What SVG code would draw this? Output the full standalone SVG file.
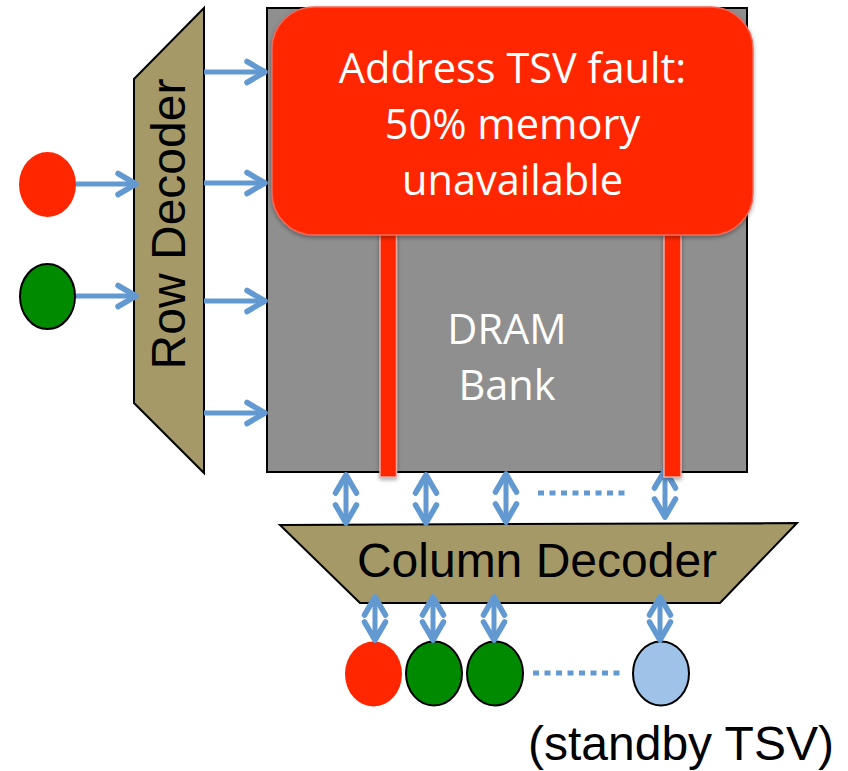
<svg xmlns="http://www.w3.org/2000/svg" width="848" height="771" viewBox="0 0 848 771">
<style>
.arr{stroke:#6399d1;stroke-width:5;fill:none;stroke-linecap:butt}
.dot{stroke:#6399d1;stroke-width:5;fill:none;stroke-dasharray:6 5.5}
.dec{fill:#a59a67;stroke:#000;stroke-width:2;stroke-linejoin:miter}
.lbl{font-family:"Liberation Sans",Arial,sans-serif;font-size:48px;fill:#000}
.wt{font-family:"Open Sans","Noto Sans",sans-serif;font-size:41.5px;fill:#fff;text-anchor:middle}
.bar{fill:#ff2600;stroke:#f2aaa0;stroke-width:1.5}
</style>
<defs>
<marker id="chev" markerUnits="userSpaceOnUse" viewBox="0 0 24 24" markerWidth="24" markerHeight="24" refX="20" refY="12" orient="auto-start-reverse" overflow="visible">
<path d="M2,1.5 L20,12 L2,22.5" fill="none" stroke="#6399d1" stroke-width="5.5" stroke-linecap="round" stroke-linejoin="round"/>
</marker>
<filter id="sh" x="-10%" y="-10%" width="120%" height="125%">
<feDropShadow dx="0" dy="2" stdDeviation="2" flood-color="#000" flood-opacity="0.35"/>
</filter>
</defs>

<g id="bank">
<rect x="267" y="8" width="480" height="464" fill="#8f8f8f" stroke="#000" stroke-width="2"/>
<text class="wt" x="507" y="344">DRAM</text>
<text class="wt" x="507" y="400">Bank</text>
</g>

<g id="row-decoder">
<polygon class="dec" points="134,79 204,8 204,473 134,403"/>
<text class="lbl" text-anchor="middle" transform="translate(185,224) rotate(-90)">Row Decoder</text>
</g>

<g id="column-decoder">
<polygon class="dec" points="280,525 797,523 720,603 360,603"/>
<text class="lbl" x="537" y="577" text-anchor="middle">Column Decoder</text>
</g>

<g id="row-tsv-red"><ellipse cx="47.5" cy="184.5" rx="28.5" ry="32.5" fill="#ff2600"/></g>
<g id="row-tsv-green"><ellipse cx="47.5" cy="296.5" rx="27.5" ry="32.5" fill="#008a00" stroke="#000" stroke-width="2"/></g>

<g id="col-tsv-red"><ellipse cx="373.5" cy="674" rx="28.5" ry="32.5" fill="#ff2600"/></g>
<g id="col-tsv-green1"><ellipse cx="434" cy="673.5" rx="28" ry="32" fill="#008a00" stroke="#000" stroke-width="2"/></g>
<g id="col-tsv-green2"><ellipse cx="495" cy="673.5" rx="28" ry="32" fill="#008a00" stroke="#000" stroke-width="2"/></g>
<g id="col-tsv-standby"><ellipse cx="661" cy="673.5" rx="28" ry="32" fill="#9fc3e8" stroke="#000" stroke-width="2"/></g>

<g id="standby-label">
<text class="lbl" x="528" y="760">(standby TSV)</text>
</g>

<g id="connectors">
<line class="arr" x1="76" y1="184" x2="136" y2="184" marker-end="url(#chev)"/>
<line class="arr" x1="76" y1="296" x2="136" y2="296" marker-end="url(#chev)"/>
<line class="arr" x1="204" y1="72" x2="265" y2="72" marker-end="url(#chev)"/>
<line class="arr" x1="204" y1="183" x2="265" y2="183" marker-end="url(#chev)"/>
<line class="arr" x1="204" y1="301" x2="265" y2="301" marker-end="url(#chev)"/>
<line class="arr" x1="204" y1="413" x2="265" y2="413" marker-end="url(#chev)"/>

<line class="arr" x1="346" y1="475" x2="346" y2="523" marker-start="url(#chev)" marker-end="url(#chev)"/>
<line class="arr" x1="426" y1="475" x2="426" y2="523" marker-start="url(#chev)" marker-end="url(#chev)"/>
<line class="arr" x1="506" y1="474" x2="506" y2="522" marker-start="url(#chev)" marker-end="url(#chev)"/>
<line class="arr" x1="665" y1="470" x2="665" y2="517" marker-start="url(#chev)" marker-end="url(#chev)"/>
<line class="dot" x1="538" y1="493" x2="628" y2="493"/>

<line class="arr" x1="375" y1="597" x2="375" y2="640" marker-start="url(#chev)" marker-end="url(#chev)"/>
<line class="arr" x1="433" y1="597" x2="433" y2="640" marker-start="url(#chev)" marker-end="url(#chev)"/>
<line class="arr" x1="494" y1="597" x2="494" y2="640" marker-start="url(#chev)" marker-end="url(#chev)"/>
<line class="arr" x1="660" y1="597" x2="660" y2="640" marker-start="url(#chev)" marker-end="url(#chev)"/>
<line class="dot" x1="533" y1="673" x2="623" y2="673"/>
</g>

<g id="faulty-lines" filter="url(#sh)">
<rect class="bar" x="380" y="230" width="16.5" height="247"/>
<rect class="bar" x="664" y="230" width="17" height="247"/>
</g>

<g id="fault-box">
<rect x="272" y="7" width="481" height="228" rx="42" ry="42" fill="#ff2600" stroke="#ee6a5a" stroke-width="1.5" filter="url(#sh)"/>
<text class="wt" x="512.5" y="83">Address TSV fault:</text>
<text class="wt" x="512.5" y="139">50% memory</text>
<text class="wt" x="512.5" y="195">unavailable</text>
</g>
</svg>
